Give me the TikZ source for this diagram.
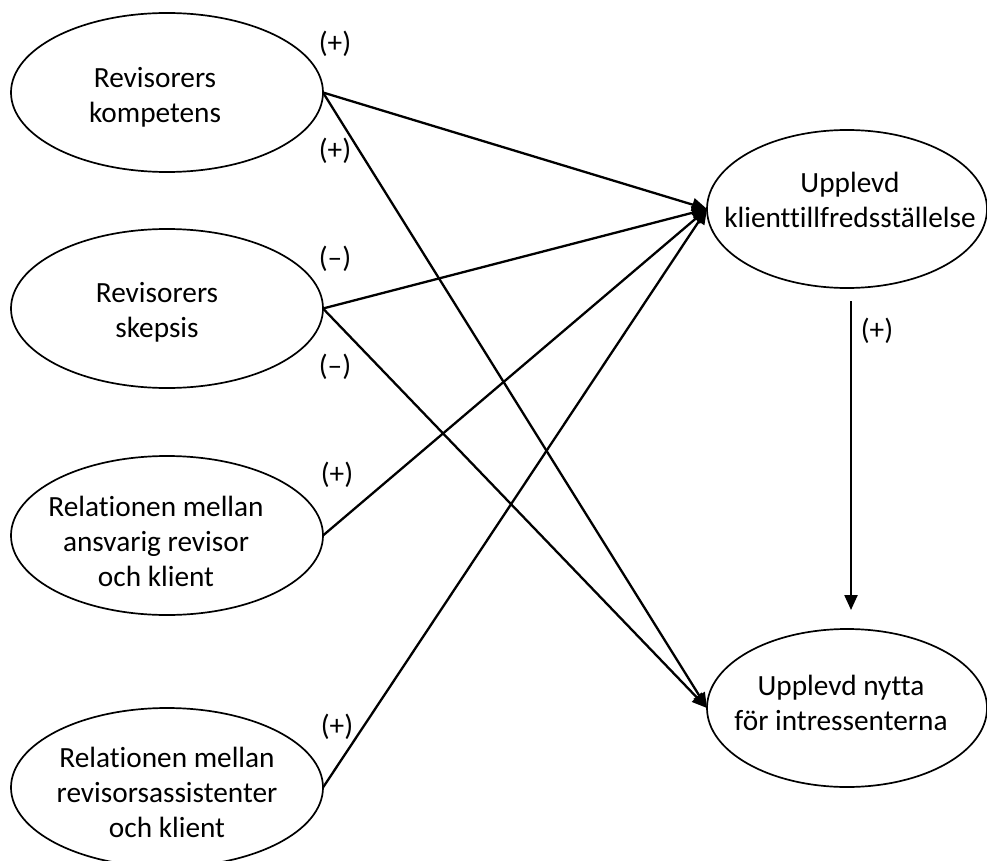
\documentclass[tikz,border=0pt]{standalone}
\usepackage{fontspec}
\setmainfont{Carlito}[Ligatures={NoCommon}]
\usetikzlibrary{shapes.geometric,arrows.meta}

\begin{document}
\begin{tikzpicture}[x=1pt, y=-1pt,
        factor/.style={ellipse, draw, line width=1.7pt, inner sep=0pt, outer sep=0pt, minimum width=312pt, minimum height=159pt},
        outcome/.style={ellipse, draw, line width=1.7pt, inner sep=0pt, outer sep=0pt, minimum width=280pt, minimum height=158pt},
        txt/.style={align=center, inner sep=0pt, font=\fontsize{29.3}{35}\selectfont},
        sign/.style={inner sep=0pt, font=\fontsize{29.3}{35}\selectfont},
        effect/.style={line width=2.3pt, -{Triangle[length=15pt, width=13pt]}}]
        \useasboundingbox (0,0) rectangle (987,861);

        \node[factor] (komp) at (167,92.5) {};
        \node[factor] (skep) at (167,308.5) {};
        \node[factor] (ansv) at (167,535.5) {};
        \node[factor] (assi) at (167,787.5) {};
        \node[outcome] (nojd) at (847,209) {};
        \node[outcome] (nytta) at (847,708) {};

        \node[txt] (kompT) at (155,97) {Revisorers\\kompetens};
        \node[txt] (skepT) at (157,312) {Revisorers\\skepsis};
        \node[txt] (ansvT) at (156,541.5) {Relationen mellan\\ansvarig revisor\\och klient};
        \node[txt] (assiT) at (167,792.5) {Relationen mellan\\revisorsassistenter\\och klient};
        \node[txt] (nojdT) at (850,199.5) {Upplevd\\klienttillfredsställelse};
        \node[txt] (nyttaT) at (841,702.5) {Upplevd nytta\\för intressenterna};

        \node[sign] (s1) at (335,43.5) {(+)};
        \node[sign] (s2) at (335,150.5) {(+)};
        \node[sign] (s3) at (335,258.5) {(–)};
        \node[sign] (s4) at (335,366.5) {(–)};
        \node[sign] (s5) at (337,475) {(+)};
        \node[sign] (s6) at (337,727) {(+)};
        \node[sign] (s7) at (877,330.5) {(+)};

        \draw[effect] (komp.east) -- (nojd.west);
        \draw[effect] (komp.east) -- (nytta.west);
        \draw[effect] (skep.east) -- (nojd.west);
        \draw[effect] (skep.east) -- (nytta.west);
        \draw[effect] (ansv.east) -- (nojd.west);
        \draw[effect] (assi.east) -- (nojd.west);
        \draw[effect, shorten <=13pt, shorten >=19pt] ([xshift=4pt]nojd.south) -- ([xshift=4pt]nytta.north);
    \end{tikzpicture}
\end{document}
